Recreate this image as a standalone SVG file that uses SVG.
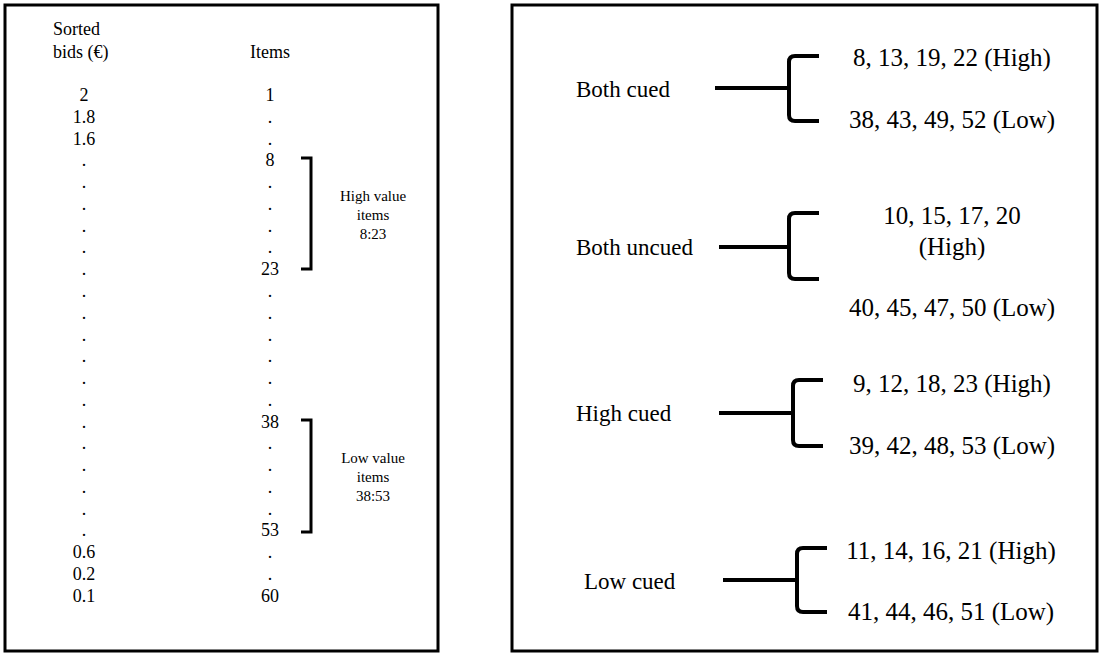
<svg xmlns="http://www.w3.org/2000/svg" width="1099" height="654" viewBox="0 0 1099 654">
<style>
.panel{fill:#fff;stroke:#000;stroke-width:3}
.t{font-family:"Liberation Serif","Times New Roman",serif;fill:#000}
.s18{font-size:18px}
.s15{font-size:15px}
.s23{font-size:23px}
.s25{font-size:25px}
.m{text-anchor:middle}
.br{fill:none;stroke:#000;stroke-width:3}
.cn{fill:none;stroke:#000;stroke-width:4;stroke-linecap:butt}
</style>
<rect width="1099" height="654" fill="#fff"/>
<g id="left-panel">
<rect class="panel" x="5" y="5" width="433" height="646"/>
<g id="headers">
<text class="t s18" x="53" y="35">Sorted</text>
<text class="t s18" x="53" y="58">bids (€)</text>
<text class="t s18 m" x="270" y="58">Items</text>
</g>
<g id="bids-column" class="t s18 m">
<text x="84" y="101">2</text>
<text x="84" y="122.8">1.8</text>
<text x="84" y="144.5">1.6</text>
<text x="84" y="166.3">.</text>
<text x="84" y="188.1">.</text>
<text x="84" y="209.9">.</text>
<text x="84" y="231.6">.</text>
<text x="84" y="253.4">.</text>
<text x="84" y="275.2">.</text>
<text x="84" y="296.9">.</text>
<text x="84" y="318.7">.</text>
<text x="84" y="340.5">.</text>
<text x="84" y="362.3">.</text>
<text x="84" y="384">.</text>
<text x="84" y="405.8">.</text>
<text x="84" y="427.6">.</text>
<text x="84" y="449.3">.</text>
<text x="84" y="471.1">.</text>
<text x="84" y="492.9">.</text>
<text x="84" y="514.6">.</text>
<text x="84" y="536.4">.</text>
<text x="84" y="558.2">0.6</text>
<text x="84" y="580">0.2</text>
<text x="84" y="601.7">0.1</text>
</g>
<g id="items-column" class="t s18 m">
<text x="270" y="101">1</text>
<text x="270" y="122.8">.</text>
<text x="270" y="144.5">.</text>
<text x="270" y="166.3">8</text>
<text x="270" y="188.1">.</text>
<text x="270" y="209.9">.</text>
<text x="270" y="231.6">.</text>
<text x="270" y="253.4">.</text>
<text x="270" y="275.2">23</text>
<text x="270" y="296.9">.</text>
<text x="270" y="318.7">.</text>
<text x="270" y="340.5">.</text>
<text x="270" y="362.3">.</text>
<text x="270" y="384">.</text>
<text x="270" y="405.8">.</text>
<text x="270" y="427.6">38</text>
<text x="270" y="449.3">.</text>
<text x="270" y="471.1">.</text>
<text x="270" y="492.9">.</text>
<text x="270" y="514.6">.</text>
<text x="270" y="536.4">53</text>
<text x="270" y="558.2">.</text>
<text x="270" y="580">.</text>
<text x="270" y="601.7">60</text>
</g>
<g id="high-value-group">
<path class="br" d="M301 158 H311 V269 H301"/>
<text class="t s15 m" x="373" y="201">High value</text>
<text class="t s15 m" x="373" y="220">items</text>
<text class="t s15 m" x="373" y="239">8:23</text>
</g>
<g id="low-value-group">
<path class="br" d="M301 420 H311 V532 H301"/>
<text class="t s15 m" x="373" y="463">Low value</text>
<text class="t s15 m" x="373" y="482">items</text>
<text class="t s15 m" x="373" y="501">38:53</text>
</g>
</g>
<g id="right-panel">
<rect class="panel" x="512" y="5" width="585" height="646"/>
</g>
<g id="both-cued">
<text class="t s23" x="576" y="97">Both cued</text>
<text class="t s25 m" x="952" y="66">8, 13, 19, 22 (High)</text>
<text class="t s25 m" x="952" y="128">38, 43, 49, 52 (Low)</text>
</g>
<g id="both-uncued">
<text class="t s23" x="576" y="255">Both uncued</text>
<text class="t s25 m" x="952" y="224">10, 15, 17, 20</text>
<text class="t s25 m" x="952" y="255">(High)</text>
<text class="t s25 m" x="952" y="316">40, 45, 47, 50 (Low)</text>
</g>
<g id="high-cued">
<text class="t s23" x="576" y="421">High cued</text>
<text class="t s25 m" x="952" y="392">9, 12, 18, 23 (High)</text>
<text class="t s25 m" x="952" y="454">39, 42, 48, 53 (Low)</text>
</g>
<g id="low-cued">
<text class="t s23" x="584" y="589">Low cued</text>
<text class="t s25 m" x="951" y="559">11, 14, 16, 21 (High)</text>
<text class="t s25 m" x="951" y="620">41, 44, 46, 51 (Low)</text>
</g>
<g id="connectors">
<path class="cn" d="M715 88 H789"/>
<path class="cn" d="M819 56 H795 Q789 56 789 62 V115 Q789 121 795 121 H819"/>
<path class="cn" d="M719 247 H789"/>
<path class="cn" d="M819 213 H795 Q789 213 789 219 V273 Q789 279 795 279 H819"/>
<path class="cn" d="M719 413 H793"/>
<path class="cn" d="M823 380 H799 Q793 380 793 386 V440 Q793 446 799 446 H823"/>
<path class="cn" d="M723 580 H797"/>
<path class="cn" d="M827 548 H803 Q797 548 797 554 V606 Q797 612 803 612 H827"/>
</g>
</svg>
